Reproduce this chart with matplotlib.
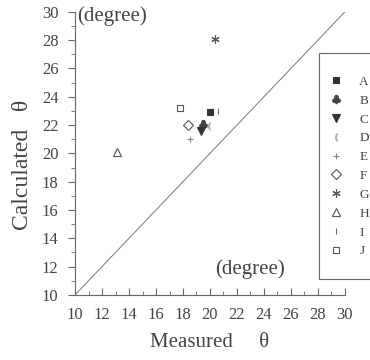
import matplotlib
matplotlib.use("Agg")
import matplotlib.pyplot as plt
from matplotlib.ticker import MultipleLocator
from matplotlib.patches import Rectangle

labels = ["A", "B", "C", "D", "E", "F", "G", "H", "I", "J"]
measured = [20.0, 19.5, 19.3, 19.9, 18.5, 18.4, 20.4, 13.1, 20.6, 17.8]
calculated = [22.9, 22.1, 21.6, 21.9, 21.0, 22.0, 28.1, 20.1, 23.0, 23.2]

markers = ["s", r"$\clubsuit$", "v", r"$($", "+", "D", (6, 2, 0), "^", "|", "s"]
sizes = [5, 6, 6, 5, 4, 5, 6, 6, 5, 5]
faces = ["#333333", "#444444", "#333333", "#aaaaaa", "#888888", "white", "#555555", "white", "#666666", "white"]
edges = ["#333333", "#444444", "#333333", "#aaaaaa", "#888888", "#555555", "#555555", "#555555", "#666666", "#555555"]

plt.rcParams['font.family'] = ['Liberation Serif', 'DejaVu Serif']
tc = "#444444"

fig = plt.figure(figsize=(3.7, 3.6), dpi=100)
ax = fig.add_axes([0.203, 0.181, 0.729, 0.786])

ax.plot([10, 30], [10, 30], color="#777777", lw=0.7)
handles = []
for i, lab in enumerate(labels):
    h, = ax.plot([measured[i]], [calculated[i]], linestyle="none", marker=markers[i],
                 ms=sizes[i], mfc=faces[i], mec=edges[i], mew=0.8, label=lab)
    handles.append(h)

ax.set_xlim(10, 30)
ax.set_ylim(10, 30)
ax.xaxis.set_major_locator(MultipleLocator(2))
ax.xaxis.set_minor_locator(MultipleLocator(1))
ax.yaxis.set_major_locator(MultipleLocator(2))
ax.yaxis.set_minor_locator(MultipleLocator(1))
for s in ["top", "right"]:
    ax.spines[s].set_visible(False)
for s in ["left", "bottom"]:
    ax.spines[s].set_color("#666666")
    ax.spines[s].set_linewidth(0.8)
ax.tick_params(axis="x", which="both", direction="in", colors="#666666", labelcolor=tc, labelsize=12, pad=9)
ax.tick_params(axis="x", which="major", length=5)
ax.tick_params(axis="x", which="minor", length=3)
ax.tick_params(axis="y", which="both", direction="out", colors="#666666", labelcolor=tc, labelsize=12, pad=7)
ax.tick_params(axis="y", which="major", length=5)
ax.tick_params(axis="y", which="minor", length=3)

ax.set_xlabel("Measured     θ", fontsize=15, color=tc, labelpad=7)
ax.set_ylabel("Calculated   θ", fontsize=17, color=tc)
ax.yaxis.set_label_coords(-0.155, 0.46)

ax.text(10.15, 29.7, "(degree)", fontsize=15, color=tc, va="center", ha="left")
ax.text(23.0, 11.8, "(degree)", fontsize=15, color=tc, va="center", ha="center")

fig.patches.append(Rectangle((0.862, 0.225), 0.16, 0.628, transform=fig.transFigure,
                             fill=False, edgecolor="#666666", linewidth=0.8, clip_on=False))
leg = fig.legend(handles=handles, loc="upper left", bbox_to_anchor=(0.889, 0.79),
                 frameon=False, fontsize=9.5, labelcolor=tc,
                 handlelength=1.0, handletextpad=1.3, labelspacing=0.5,
                 borderpad=0, borderaxespad=0)

fig.savefig("out.png", dpi=100)
